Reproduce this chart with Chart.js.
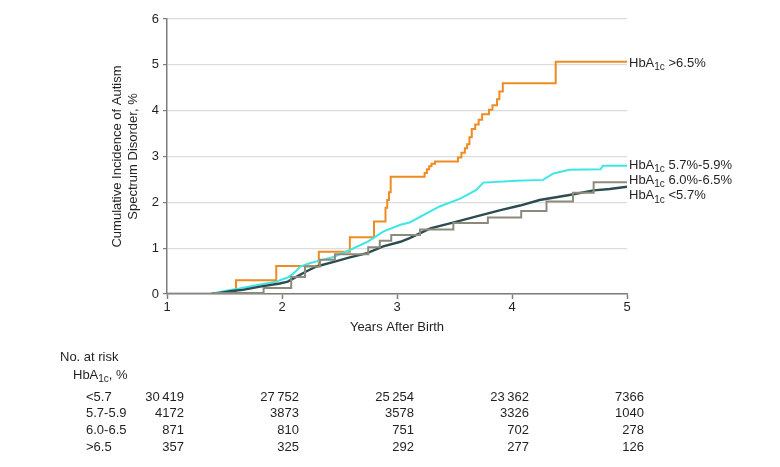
<!DOCTYPE html>
<html>
<head>
<meta charset="utf-8">
<script src="https://cdn.jsdelivr.net/npm/chart.js@4.4.0/dist/chart.umd.min.js"></script>
<style>
  html, body { margin: 0; padding: 0; background: #fff; }
  #wrap { width: 780px; height: 467px; }
</style>
</head>
<body>
<div id="wrap"><canvas id="kmChart" width="780" height="467"></canvas></div>
<script>
// ---- data ----
// HbA1c >6.5% (step curve)
const yearsHigh = [1, 1.60, 1.95, 2.32, 2.59, 2.80, 2.90, 2.915, 2.93, 2.945, 3.24, 3.26, 3.28, 3.30, 3.33, 3.53, 3.56, 3.59, 3.61, 3.63, 3.65, 3.68, 3.71, 3.74, 3.77, 3.80, 3.83, 3.87, 3.89, 3.92, 4.38, 5.0];
const incHigh = [0, 0.30, 0.61, 0.92, 1.24, 1.58, 1.88, 2.05, 2.22, 2.56, 2.64, 2.72, 2.79, 2.84, 2.89, 2.98, 3.08, 3.18, 3.27, 3.42, 3.60, 3.70, 3.80, 3.92, 3.92, 4.02, 4.12, 4.25, 4.42, 4.60, 5.07, 5.07];

// HbA1c 5.7%-5.9%
const yearsPre1 = [1, 1.37, 1.55, 1.63, 1.80, 1.95, 2.05, 2.10, 2.16, 2.24, 2.45, 2.59, 2.75, 2.88, 3.03, 3.11, 3.37, 3.55, 3.69, 3.75, 4.04, 4.27, 4.36, 4.50, 4.77, 4.79, 5.0];
const incPre1 = [0, 0, 0.09, 0.12, 0.20, 0.27, 0.36, 0.45, 0.60, 0.67, 0.81, 0.96, 1.15, 1.36, 1.51, 1.56, 1.91, 2.08, 2.27, 2.43, 2.47, 2.49, 2.63, 2.71, 2.72, 2.80, 2.80];

// HbA1c 6.0%-6.5% (step curve)
const yearsPre2 = [1, 1.40, 1.84, 2.08, 2.20, 2.33, 2.46, 2.75, 2.85, 2.95, 3.20, 3.49, 3.79, 4.08, 4.30, 4.53, 4.71, 5.0];
const incPre2 = [0, 0.02, 0.13, 0.37, 0.60, 0.75, 0.87, 1.02, 1.16, 1.29, 1.41, 1.55, 1.67, 1.81, 2.02, 2.21, 2.44, 2.44];

// HbA1c <5.7%
const yearsNormal = [1, 1.40, 1.58, 1.66, 1.81, 1.98, 2.05, 2.10, 2.21, 2.30, 2.45, 2.59, 2.74, 2.88, 3.03, 3.11, 3.29, 3.52, 3.70, 3.90, 4.07, 4.24, 4.50, 4.71, 4.85, 5.0];
const incNormal = [0, 0, 0.07, 0.09, 0.16, 0.23, 0.27, 0.34, 0.49, 0.60, 0.70, 0.80, 0.89, 1.04, 1.14, 1.22, 1.43, 1.58, 1.70, 1.83, 1.93, 2.05, 2.16, 2.26, 2.29, 2.34];

// number at risk table
const riskYears = [1, 2, 3, 4, 5];
const riskGroups = ["<5.7", "5.7-5.9", "6.0-6.5", ">6.5"];
const riskNormal = ["30\u2009419", "27\u2009752", "25\u2009254", "23\u2009362", "7366"];
const riskPre1 = ["4172", "3873", "3578", "3326", "1040"];
const riskPre2 = ["871", "810", "751", "702", "278"];
const riskHigh = ["357", "325", "292", "277", "126"];

const yTicks = [0, 1, 2, 3, 4, 5, 6];
const xTicks = [1, 2, 3, 4, 5];

// end-of-line labels
const seriesNames = [">6.5%", "5.7%-5.9%", "6.0%-6.5%", "<5.7%"];

const FONT = "'Liberation Sans', Arial, sans-serif";
const TXT = "#231f20";

function zip(xs, ys) {
  return xs.map((x, i) => ({ x: x, y: ys[i] }));
}

// --------------------------------------------------
// text drawn around the plot (titles, labels, risk table)
// --------------------------------------------------
const annotations = {
  id: "annotations",
  afterDraw(chart) {
    const ctx = chart.ctx;
    const xs = chart.scales.x;
    const ys = chart.scales.y;
    const area = chart.chartArea;
    ctx.save();
    ctx.fillStyle = TXT;
    ctx.textBaseline = "middle";

    // y title (two lines)
    ctx.save();
    ctx.translate(117, (area.top + area.bottom) / 2);
    ctx.rotate(-Math.PI / 2);
    ctx.textAlign = "center";
    ctx.font = "13px " + FONT;
    ctx.fillText("Cumulative Incidence of Autism", 0, 0);
    ctx.fillText("Spectrum Disorder, %", 0, 16);
    ctx.restore();

    // x title
    ctx.textAlign = "center";
    ctx.font = "13px " + FONT;
    ctx.fillText("Years After Birth", (area.left + area.right) / 2, 327);

    // end labels
    const ends = [incHigh, incPre1, incPre2, incNormal].map((a) => a[a.length - 1]);
    const shifts = [2, 0, -2, 9];
    ctx.textAlign = "left";
    seriesNames.forEach((name, i) => {
      const y = ys.getPixelForValue(ends[i]) + shifts[i];
      drawHba(ctx, area.right + 2, y, " " + name);
    });

    // number at risk
    ctx.font = "13px " + FONT;
    ctx.textAlign = "left";
    ctx.fillText("No. at risk", 60, 357);
    drawHba(ctx, 73, 375, ", %");
    const rows = [riskNormal, riskPre1, riskPre2, riskHigh];
    rows.forEach((row, r) => {
      const y = 397 + r * 16.7;
      ctx.font = "13px " + FONT;
      ctx.textAlign = "left";
      ctx.fillText(riskGroups[r], 86, y);
      ctx.textAlign = "right";
      row.forEach((v, k) => {
        ctx.fillText(v, xs.getPixelForValue(riskYears[k]) + 17, y);
      });
    });
    ctx.restore();
  },
};

function drawHba(ctx, x, y, suffix) {
  ctx.textAlign = "left";
  ctx.font = "13px " + FONT;
  ctx.fillText("HbA", x, y);
  let w = ctx.measureText("HbA").width;
  ctx.font = "10px " + FONT;
  ctx.fillText("1c", x + w, y + 4);
  w += ctx.measureText("1c").width;
  ctx.font = "13px " + FONT;
  ctx.fillText(suffix, x + w, y);
}

function lineSet(label, data, color, width, stepped) {
  return {
    label,
    data,
    borderColor: color,
    borderWidth: width,
    pointRadius: 0,
    fill: false,
    stepped: stepped,
    tension: 0,
  };
}

new Chart(document.getElementById("kmChart"), {
  type: "line",
  data: {
    datasets: [
      lineSet("HbA1c 6.0%-6.5%", zip(yearsPre2, incPre2), "#8b8a7c", 2, "before"),
      lineSet("HbA1c <5.7%", zip(yearsNormal, incNormal), "#2c4c4f", 2.4, false),
      lineSet("HbA1c 5.7%-5.9%", zip(yearsPre1, incPre1), "#3ee6e6", 2, false),
      lineSet("HbA1c >6.5%", zip(yearsHigh, incHigh), "#ee8b22", 2, "before"),
    ],
  },
  options: {
    responsive: false,
    animation: false,
    layout: { padding: { top: 19, right: 153, left: 0, bottom: 0 } },
    plugins: {
      legend: { display: false },
      tooltip: { enabled: false },
    },
    scales: {
      x: {
        type: "linear",
        min: 1,
        max: 5,
        afterBuildTicks: (s) => { s.ticks = xTicks.map((v) => ({ value: v })); },
        afterFit: (s) => { s.height = 173; },
        border: { color: "#7d7d7d", width: 1.5 },
        grid: { drawOnChartArea: false, tickLength: 5, tickColor: "#7d7d7d", tickWidth: 1.5 },
        ticks: { color: TXT, font: { family: FONT, size: 13 }, padding: 1, maxRotation: 0 },
      },
      y: {
        min: 0,
        max: 6,
        afterBuildTicks: (s) => { s.ticks = yTicks.map((v) => ({ value: v })); },
        afterFit: (s) => { s.width = 167; },
        border: { color: "#7d7d7d", width: 1.5 },
        grid: { color: "#dcdcdc", lineWidth: 1.2, tickLength: 4, tickColor: "#7d7d7d", drawTicks: true },
        ticks: { color: TXT, font: { family: FONT, size: 13 }, padding: 4 },
      },
    },
  },
  plugins: [annotations],
});
</script>
</body>
</html>
